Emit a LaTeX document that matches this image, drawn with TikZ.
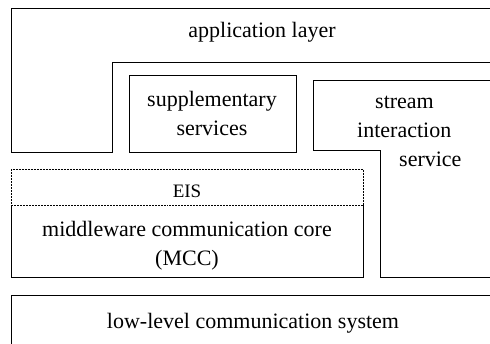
\documentclass[tikz,border=0pt]{standalone}
\usepackage{fontspec}
\setmainfont{Liberation Serif}

\begin{document}
\begin{tikzpicture}[x=1pt, y=-1pt, layer/.style = {draw, line width=0.8pt}, edge/.style = {draw, line width=0.5pt, densely dotted}, txt/.style = {font=\fontsize{22}{29}\selectfont, inner sep=0pt}]
				\useasboundingbox (0,0) rectangle (490,343);
				\clip (0,0) rectangle (490,343);
				\draw[layer] (495,8) -- (11,8) -- (11,152) -- (112,152) -- (112,62) -- (495,62);
				\draw[layer] (129,75) rectangle (296,152);
				\draw[layer] (495,80) -- (313,80) -- (313,150) -- (380,150) -- (380,277) -- (495,277);
				\draw[edge] (11,205) -- (11,169) -- (363,169) -- (363,205) -- cycle;
				\draw[layer] (11,205) -- (11,277) -- (363,277) -- (363,205);
				\draw[layer] (495,295) -- (11,295) -- (11,350);
				\node[txt, anchor=base] (app) at (262,37) {application layer};
				\node[txt, align=center] (supp) at (212,113) {supplementary\\services};
				\node[txt, align=left, anchor=west] (sis) at (357,131) {\hspace*{18pt}stream\\interaction\\\hspace*{42pt}service};
				\node[txt, anchor=base, font=\fontsize{19}{22}\selectfont] (eis) at (187,197) {EIS};
				\node[txt, align=center] (mcc) at (187,246) {middleware communication core\\(MCC)};
				\node[txt, anchor=base] (low) at (253,328) {low-level communication system};
			\end{tikzpicture}
\end{document}
